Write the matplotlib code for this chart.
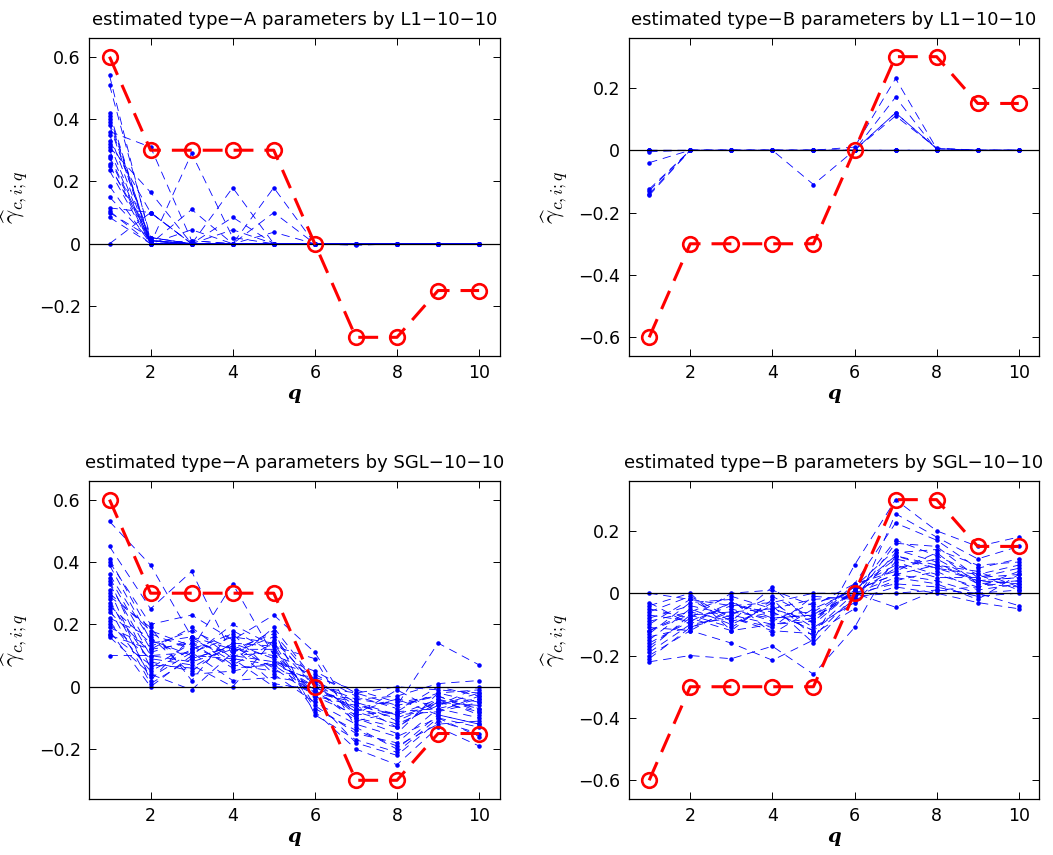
import matplotlib
matplotlib.use("Agg")
import matplotlib.pyplot as plt
from matplotlib.ticker import FuncFormatter

plt.rcParams['font.family'] = ['DejaVu Sans']
plt.rcParams['mathtext.fontset'] = 'cm'

q = list(range(1, 11))

# true parameters (red)
true_A = [0.6, 0.3, 0.3, 0.3, 0.3, 0, -0.3, -0.3, -0.15, -0.15]
true_B = [-0.6, -0.3, -0.3, -0.3, -0.3, 0, 0.3, 0.3, 0.15, 0.15]

# estimates by L1-10-10, type A
est_L1_A = [
    [0.54, 0.01, 0, 0, 0, 0, 0, 0, 0, 0],
    [0.51, 0.02, 0, 0, 0, 0, 0, 0, 0, 0],
    [0.42, 0, 0, 0, 0, 0, 0, 0, 0, 0],
    [0.41, 0, 0.11, 0, 0, 0, 0, 0, 0, 0],
    [0.40, 0.01, 0, 0.18, 0, 0, 0, 0, 0, 0],
    [0.39, 0, 0, 0, 0.18, 0, 0, 0, 0, 0],
    [0.38, 0.01, 0, 0, 0, 0, -0.005, 0, 0, 0],
    [0.36, 0.31, 0.01, 0, 0, 0, 0, 0, 0, 0],
    [0.35, 0, 0.29, 0.02, 0, 0, 0, 0, 0, 0],
    [0.33, 0.10, 0, 0.085, 0, 0, 0, 0, 0, 0],
    [0.32, 0, 0.045, 0, 0.10, 0, 0, 0, 0, 0],
    [0.31, 0.165, 0, 0, 0, 0, 0, 0, 0, 0],
    [0.30, 0, 0, 0.045, 0, 0, 0, 0, 0, 0],
    [0.28, 0.01, 0, 0, 0.037, 0, 0, 0, 0, 0],
    [0.275, 0, 0, 0, 0, 0, 0, 0, 0, 0],
    [0.255, 0, 0.01, 0, 0, 0, 0, 0, 0, 0],
    [0.25, 0.02, 0, 0, 0, 0, 0, 0, 0, 0],
    [0.235, 0, 0, 0, 0, 0, 0, 0, 0, 0],
    [0.185, 0, 0, 0, 0, 0, 0, 0, 0, 0],
    [0.15, 0.01, 0, 0, 0, 0, 0, 0, 0, 0],
    [0.115, 0.10, 0, 0, 0, 0, 0, 0, 0, 0],
    [0.105, 0, 0, 0, 0, 0, 0, 0, 0, 0],
    [0.10, 0.02, 0, 0, 0, 0, 0, 0, 0, 0],
    [0.085, 0, 0, 0, 0, 0, 0, 0, 0, 0],
    [0, 0.10, 0, 0, 0, 0, 0, 0, 0, 0],
]

# estimates by L1-10-10, type B
est_L1_B = [
    [-0.145, 0, 0, 0, 0, 0, 0.12, 0.005, 0, 0],
    [-0.14, 0, 0, 0, 0, 0, 0.11, 0.007, 0, 0],
    [-0.13, 0, 0, 0, 0, 0, 0, 0, 0, 0],
    [-0.125, 0, 0, 0, 0, 0.01, 0.23, 0.005, 0, 0],
    [-0.04, 0, 0, 0, 0, 0, 0.17, 0, 0, 0],
    [-0.005, 0, 0, 0, -0.11, 0, 0, 0, 0, 0],
    [0, 0, 0, 0, 0, 0, 0.12, 0.005, 0, 0],
    [0, 0, 0, 0, 0, 0, 0, 0, 0, 0],
    [0, 0, 0, 0, 0, 0, 0, 0, 0, 0],
    [0, 0, 0, 0, 0, 0, 0, 0, 0, 0],
]

# estimates by SGL-10-10, type A
est_SGL_A = [
    [0.53, 0.39, 0.16, 0.12, 0.17, 0.02, -0.05, -0.09, -0.04, -0.07],
    [0.45, 0.25, 0.37, 0.10, 0.08, 0.00, -0.08, -0.12, -0.06, -0.02],
    [0.41, 0.17, 0.12, 0.33, 0.10, 0.05, -0.02, -0.06, 0.14, 0.07],
    [0.40, 0.20, 0.23, 0.15, 0.23, 0.11, -0.10, -0.15, -0.02, -0.05],
    [0.36, 0.15, 0.10, 0.20, 0.13, 0.09, -0.13, -0.20, -0.09, -0.12],
    [0.35, 0.12, 0.19, 0.09, 0.07, -0.02, -0.04, -0.03, 0.01, 0.02],
    [0.34, 0.06, 0.14, 0.11, 0.16, 0.00, -0.07, -0.10, -0.05, -0.04],
    [0.33, 0.10, 0.08, 0.12, 0.12, -0.04, -0.18, -0.22, -0.11, -0.15],
    [0.30, 0.18, 0.13, 0.07, 0.05, 0.03, -0.01, -0.05, -0.03, -0.08],
    [0.28, 0.03, 0.11, 0.16, 0.14, -0.06, -0.15, -0.18, -0.07, -0.10],
    [0.27, 0.08, 0.05, 0.14, 0.09, -0.01, -0.11, -0.08, 0.00, -0.03],
    [0.26, 0.14, 0.16, 0.08, 0.19, 0.02, -0.06, -0.13, -0.04, -0.09],
    [0.25, 0.01, 0.09, 0.13, 0.06, -0.03, -0.09, -0.01, -0.08, -0.05],
    [0.24, 0.11, 0.15, 0.10, 0.11, -0.08, -0.20, -0.25, -0.13, -0.19],
    [0.22, 0.16, 0.04, 0.05, 0.08, 0.04, -0.03, -0.07, -0.02, -0.01],
    [0.21, 0.05, 0.12, 0.17, 0.04, -0.05, -0.12, -0.16, -0.10, -0.13],
    [0.20, 0.09, 0.07, 0.00, 0.15, 0.01, -0.08, -0.04, -0.06, 0.00],
    [0.19, 0.13, 0.18, 0.12, 0.10, -0.02, -0.05, -0.11, -0.05, -0.06],
    [0.18, 0.00, 0.10, 0.09, 0.00, 0.00, -0.02, 0.00, -0.01, -0.02],
    [0.17, 0.07, 0.06, 0.14, 0.13, -0.07, -0.14, -0.19, -0.12, -0.11],
    [0.165, 0.12, 0.14, 0.06, 0.07, 0.02, -0.09, -0.08, -0.07, -0.04],
    [0.16, 0.04, -0.01, 0.11, 0.18, -0.09, -0.17, -0.21, -0.10, -0.16],
    [0.10, 0.10, 0.11, 0.02, 0.03, 0.01, -0.04, -0.06, -0.03, -0.07],
    [0.29, 0.19, 0.02, 0.18, 0.11, -0.03, -0.06, -0.09, -0.08, -0.03],
    [0.39, 0.15, 0.09, 0.13, 0.01, -0.01, -0.10, -0.13, -0.05, -0.08],
    [0.31, 0.02, 0.16, 0.07, 0.14, 0.00, -0.07, -0.04, -0.09, -0.12],
]

# estimates by SGL-10-10, type B
est_SGL_B = [
    [-0.22, -0.20, -0.21, -0.17, -0.26, -0.11, 0.12, 0.08, 0.04, 0.03],
    [-0.20, -0.12, -0.16, -0.215, -0.15, 0.09, 0.30, 0.20, 0.15, 0.18],
    [-0.19, -0.10, -0.08, -0.12, -0.13, -0.05, 0.255, 0.18, 0.11, 0.15],
    [-0.17, -0.08, -0.12, -0.10, -0.09, 0.03, 0.225, 0.17, 0.08, 0.11],
    [-0.16, -0.09, -0.04, -0.06, -0.12, 0.00, 0.17, 0.12, 0.06, 0.09],
    [-0.15, -0.05, -0.10, -0.04, -0.16, -0.02, 0.16, 0.15, 0.05, 0.06],
    [-0.14, -0.11, -0.06, -0.08, -0.07, 0.02, 0.14, 0.10, 0.03, 0.04],
    [-0.13, -0.03, -0.02, -0.13, -0.05, 0.01, 0.12, 0.09, 0.07, 0.02],
    [-0.12, -0.07, -0.11, -0.03, -0.11, -0.03, 0.10, 0.06, 0.02, 0.07],
    [-0.11, -0.12, -0.05, -0.09, -0.03, 0.00, 0.08, 0.11, 0.04, 0.05],
    [-0.10, -0.02, -0.09, 0.02, -0.10, 0.01, 0.06, 0.04, 0.00, 0.01],
    [-0.09, -0.06, -0.01, -0.05, -0.02, -0.01, 0.04, 0.07, 0.01, 0.03],
    [-0.08, -0.04, -0.07, -0.01, -0.08, 0.00, 0.03, 0.02, -0.01, 0.00],
    [-0.07, -0.09, -0.03, -0.07, -0.06, 0.02, 0.09, 0.05, 0.05, 0.08],
    [-0.06, -0.01, -0.08, -0.11, -0.01, -0.02, 0.02, 0.00, -0.03, -0.05],
    [-0.05, -0.08, 0.00, 0.01, -0.04, 0.03, 0.07, 0.13, 0.03, 0.02],
    [-0.04, 0.00, -0.12, -0.02, -0.14, -0.01, 0.00, 0.01, 0.02, 0.04],
    [-0.03, -0.10, -0.03, -0.08, -0.07, 0.00, 0.05, 0.03, -0.02, 0.06],
    [-0.18, -0.07, -0.06, -0.05, -0.09, 0.01, 0.11, 0.08, 0.06, 0.01],
    [0.00, -0.02, -0.04, -0.03, 0.00, 0.00, -0.045, 0.01, 0.00, -0.04],
    [-0.12, -0.06, -0.09, -0.06, -0.12, -0.02, 0.13, 0.14, 0.09, 0.10],
    [-0.21, -0.11, -0.07, -0.10, -0.08, 0.01, 0.06, 0.09, 0.04, 0.05],
]

titles = ["estimated type\u2212A parameters by L1\u221210\u221210",
          "estimated type\u2212B parameters by L1\u221210\u221210",
          "estimated type\u2212A parameters by SGL\u221210\u221210",
          "estimated type\u2212B parameters by SGL\u221210\u221210"]
estimates = [est_L1_A, est_L1_B, est_SGL_A, est_SGL_B]
truths = [true_A, true_B, true_A, true_B]
ylims = [(-0.36, 0.66), (-0.66, 0.36), (-0.36, 0.66), (-0.66, 0.36)]
yticks = [[-0.2, 0, 0.2, 0.4, 0.6], [-0.6, -0.4, -0.2, 0, 0.2],
          [-0.2, 0, 0.2, 0.4, 0.6], [-0.6, -0.4, -0.2, 0, 0.2]]

# axes boxes in figure fractions
boxes = [(0.0845, 0.5836, 0.390, 0.372), (0.597, 0.5836, 0.390, 0.372),
         (0.0845, 0.0655, 0.390, 0.372), (0.597, 0.0655, 0.390, 0.372)]

fmt = FuncFormatter(lambda v, p: ('%g' % v).replace('-', '\u2212'))

fig = plt.figure(figsize=(10.53, 8.55), dpi=100)
for k in range(4):
    ax = fig.add_axes(boxes[k])
    for s in estimates[k]:
        ax.plot(q, s, color='blue', lw=0.6, linestyle=(0, (10, 7)),
                marker='.', markersize=4.5, zorder=2)
    ax.axhline(0, color='black', lw=0.9, zorder=3)
    ax.plot(q, truths[k], color='red', lw=2.2, linestyle=(0, (6.5, 3.6)),
            marker='o', markersize=10.5, markerfacecolor='none',
            markeredgewidth=1.9, zorder=4)
    ax.set_xlim(0.5, 10.5)
    ax.set_ylim(*ylims[k])
    ax.set_xticks([2, 4, 6, 8, 10])
    ax.set_yticks(yticks[k])
    ax.yaxis.set_major_formatter(fmt)
    ax.tick_params(direction='in', top=True, right=True, length=5,
                   width=0.7, labelsize=12.5, pad=6)
    for sp in ax.spines.values():
        sp.set_linewidth(0.9)
    ax.set_title(titles[k], fontsize=13, pad=9)
    ax.set_xlabel('q', fontsize=14, family='DejaVu Serif', style='italic',
                  weight='bold', labelpad=2)
    ax.set_ylabel(r'$\widehat{\gamma}_{c,i;q}$', fontsize=18, labelpad=6)

fig.savefig('out.png', dpi=100)
